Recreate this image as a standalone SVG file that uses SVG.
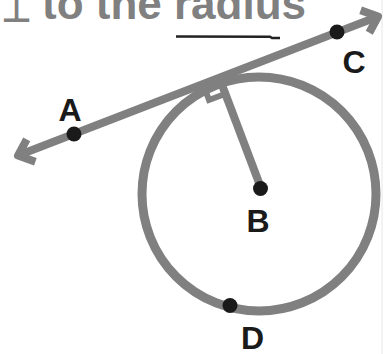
<svg xmlns="http://www.w3.org/2000/svg" width="390" height="354" viewBox="0 0 390 354">
  <defs>
    <style>
      .g { stroke: #808080; fill: none; }
      .dot { fill: #1a1a1a; }
      .lbl { font-family: "Liberation Sans", Arial, sans-serif; font-weight: bold; font-size: 32px; fill: #1a1a1a; text-anchor: middle; }
      .title { font-family: "Liberation Sans", Arial, sans-serif; font-weight: bold; font-size: 44px; fill: #808080; }
    </style>
    <marker id="chev" markerUnits="userSpaceOnUse" orient="auto-start-reverse" refX="0" refY="0" markerWidth="40" markerHeight="40" overflow="visible">
      <path d="M-14,-12 L0,0 L-14,12" stroke="#808080" stroke-width="8" fill="none" stroke-linejoin="round"/>
    </marker>
  </defs>
  <rect width="390" height="354" fill="#ffffff"/>
  <line x1="382" y1="0" x2="382" y2="354" stroke="#e6e6e6" stroke-width="1"/>

  <g id="title">
    <text x="1" y="22" font-family="DejaVu Sans, sans-serif" font-weight="bold" font-size="34" fill="#808080">⊥</text>
    <text class="title" x="42" y="19">to the radius</text>
    <path d="M176,36.5 L270,36.8 L272,38 L280,38" stroke="#222" stroke-width="2.5" fill="none"/>
  </g>

  <g id="circle">
    <circle class="g" cx="259" cy="194" r="117" stroke-width="9"/>
  </g>

  <g id="connectors">
    <line id="tangent" class="g" x1="18" y1="155.6" x2="378" y2="16.5" stroke-width="8" marker-start="url(#chev)" marker-end="url(#chev)"/>
    <line id="radius" class="g" x1="261" y1="188" x2="219" y2="77" stroke-width="8"/>
    <path id="right-angle" class="g" d="M203,84 L209,100 L225,94" stroke-width="6"/>
  </g>

  <g id="A">
    <circle class="dot" cx="74" cy="134" r="7.5"/>
    <text class="lbl" x="70" y="121">A</text>
  </g>
  <g id="C">
    <circle class="dot" cx="337" cy="32" r="7.5"/>
    <text class="lbl" x="354" y="73">C</text>
  </g>
  <g id="B">
    <circle class="dot" cx="260.5" cy="188.5" r="7.5"/>
    <text class="lbl" x="258" y="232">B</text>
  </g>
  <g id="D">
    <circle class="dot" cx="230" cy="305.5" r="7.5"/>
    <text class="lbl" x="252.5" y="349">D</text>
  </g>
</svg>
